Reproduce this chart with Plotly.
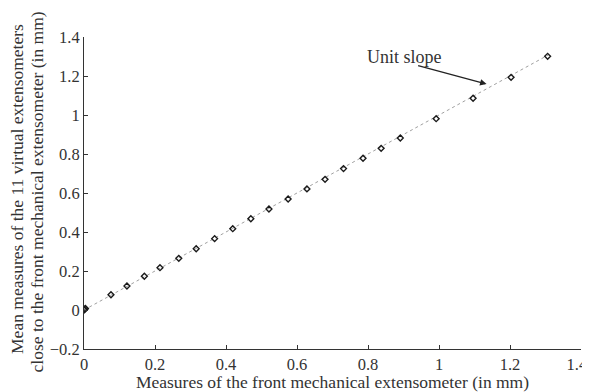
import plotly.graph_objects as go

# Data
x_front = [0.0, 0.002, 0.004, 0.076, 0.121, 0.170, 0.214, 0.267, 0.316, 0.368, 0.419, 0.470,
           0.521, 0.575, 0.628, 0.679, 0.731, 0.786, 0.837, 0.891, 0.992, 1.096, 1.203, 1.306]
y_mean = [0.0, 0.004, 0.008, 0.078, 0.123, 0.173, 0.217, 0.265, 0.314, 0.366, 0.417, 0.468,
          0.518, 0.569, 0.621, 0.670, 0.725, 0.778, 0.829, 0.882, 0.981, 1.086, 1.193, 1.301]
unit_x = [0.0, 1.31]
unit_y = [0.0, 1.31]
tick_vals_x = [0, 0.2, 0.4, 0.6, 0.8, 1, 1.2, 1.4]
tick_text_x = ["0", "0.2", "0.4", "0.6", "0.8", "1", "1.2", "1.4\u00a0\u00a0"]
tick_vals_y = [-0.2, 0, 0.2, 0.4, 0.6, 0.8, 1, 1.2, 1.4]
tick_text_y = ["\u22120.2", "0", "0.2", "0.4", "0.6", "0.8", "1", "1.2", "1.4"]
y_title_lines = ["Mean measures of the 11 virtual extensometers",
                 "close to the front mechanical extensometer (in mm)"]
x_title = "Measures of the front mechanical extensometer (in mm)"

FONT = "Liberation Serif"
TXT = "#333333"

fig = go.Figure()
fig.add_trace(go.Scatter(x=unit_x, y=unit_y, mode="lines",
                         line=dict(color="#a0a0a0", width=1, dash="dot"),
                         showlegend=False, hoverinfo="skip"))
fig.add_trace(go.Scatter(x=x_front, y=y_mean, mode="markers",
                         marker=dict(symbol="diamond-open", size=4.5, color="#1a1a1a",
                                     line=dict(width=1.4, color="#1a1a1a")),
                         showlegend=False))

fig.add_annotation(x=1.134, y=1.159, ax=0.937, ay=1.255, xref="x", yref="y",
                   axref="x", ayref="y", text="", showarrow=True,
                   arrowhead=2, arrowsize=1, arrowwidth=1.3, arrowcolor="#222222")
fig.add_annotation(x=0.903, y=1.295, xref="x", yref="y", text="Unit slope",
                   showarrow=False, font=dict(family=FONT, size=18, color=TXT))

# two-line y-axis title, placed as rotated annotations for exact line spacing
for txt, px, py in zip(y_title_lines, [-0.1348, -0.0946], [0.513, 0.505]):
    fig.add_annotation(x=px, y=py, xref="paper", yref="paper", text=txt,
                       textangle=-90, showarrow=False, xanchor="center", yanchor="middle",
                       font=dict(family=FONT, size=17.5, color=TXT))

axis_common = dict(showgrid=False, zeroline=False, showline=True, linecolor="#333333",
                   linewidth=1, ticks="inside", ticklen=4, tickcolor="#333333",
                   tickfont=dict(family=FONT, size=16.5, color=TXT), automargin=False,
                   ticklabeloverflow="allow")

# The page body adds an 8px offset, so the figure is sized to fit the window.
fig.update_layout(
    width=582, height=384,
    margin=dict(l=76, r=9, t=29, b=43),
    paper_bgcolor="white", plot_bgcolor="white",
    xaxis=dict(range=[0, 1.4], tickvals=tick_vals_x, ticktext=tick_text_x,
               title=dict(text=x_title, font=dict(family=FONT, size=17.5, color=TXT),
                          standoff=0),
               **axis_common),
    yaxis=dict(range=[-0.2, 1.4], tickvals=tick_vals_y, ticktext=tick_text_y,
               **axis_common),
)

fig.write_html("out.html")
